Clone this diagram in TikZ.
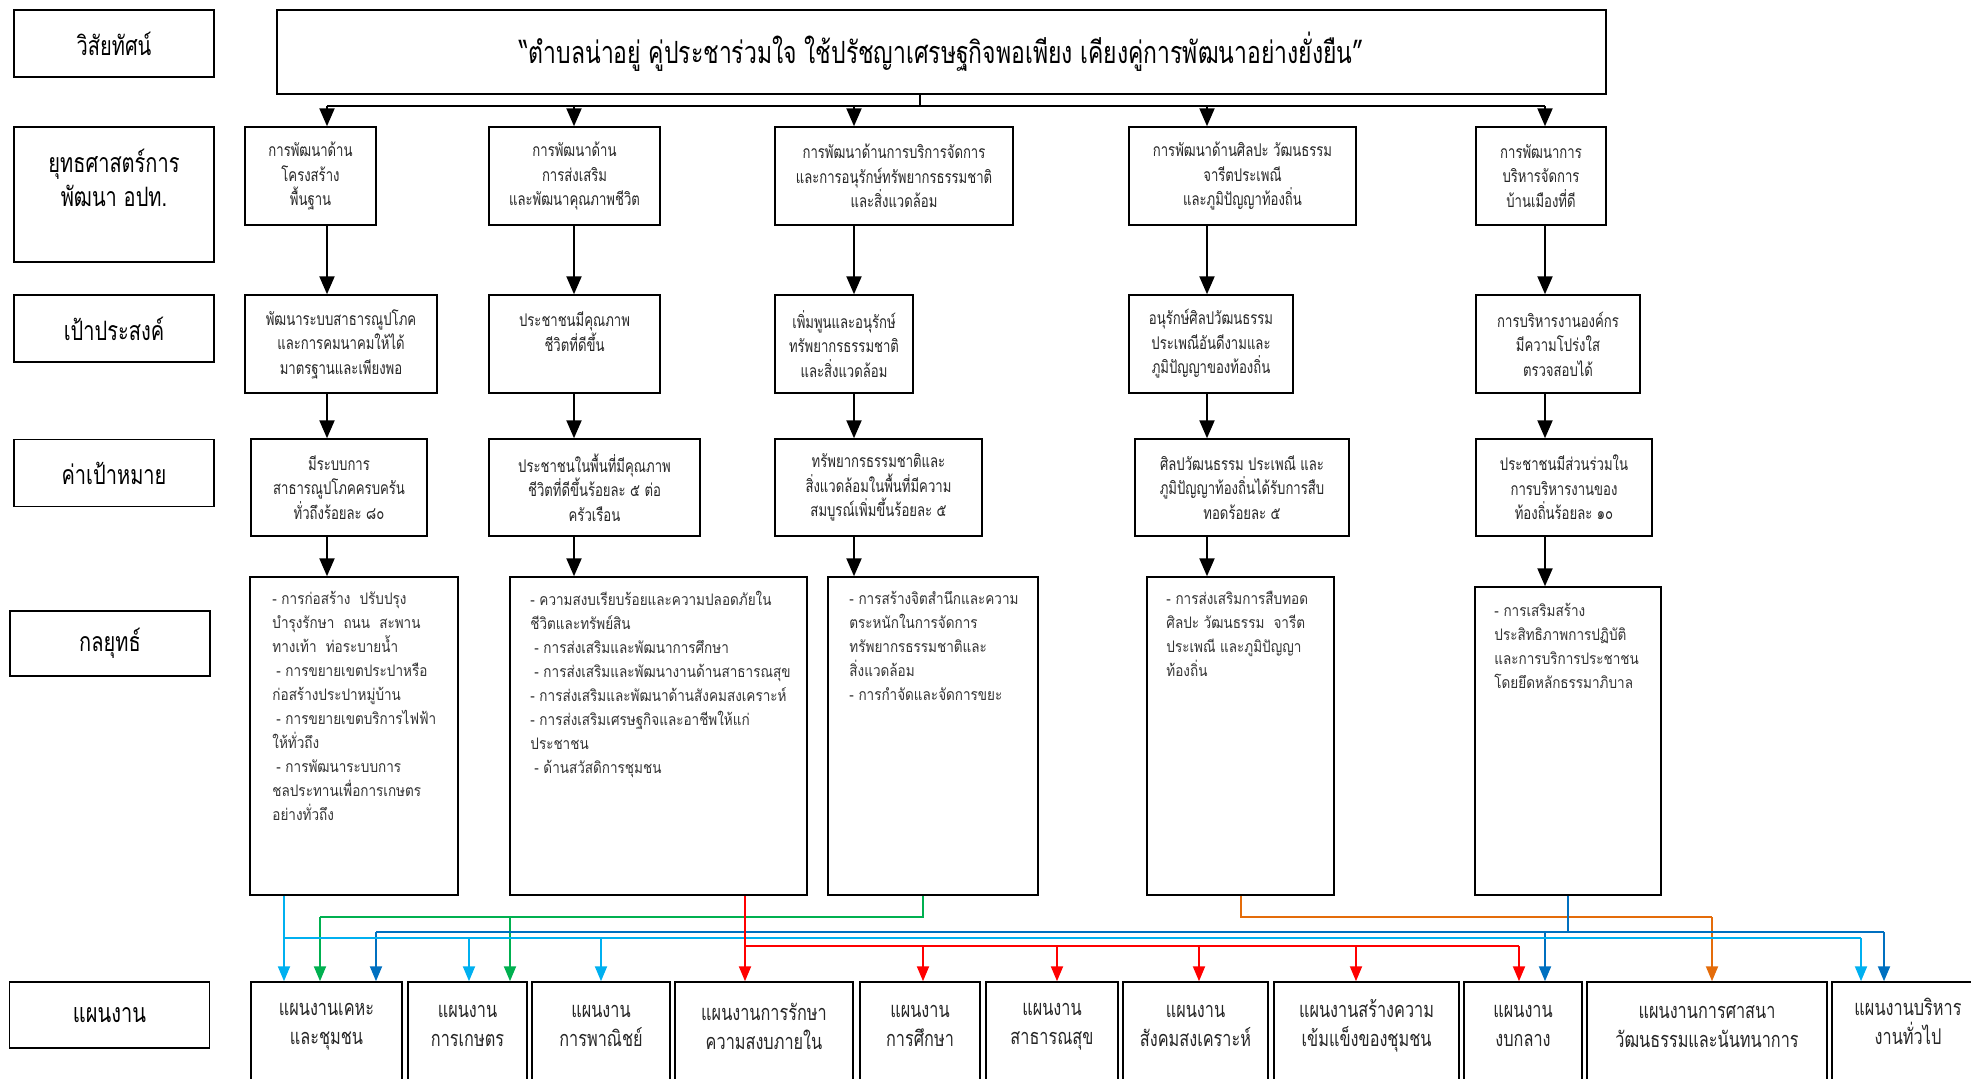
\documentclass[tikz,border=0pt]{standalone}
\usepackage{fontspec}
\setmainfont[Script=Thai]{Loma}
\newfontfamily\thnarrow[Script=Thai,FakeStretch=0.75]{Loma}
\newfontfamily\thtactic[Script=Thai,FakeStretch=0.85]{Loma}
\usetikzlibrary{arrows.meta}
\definecolor{skyln}{HTML}{00B0F0}
\definecolor{grnln}{HTML}{00B050}
\definecolor{bluln}{HTML}{0070C0}
\definecolor{redln}{HTML}{FF0000}
\definecolor{orgln}{HTML}{E46C0A}

\begin{document}
\begin{tikzpicture}[x=1pt,y=-1pt,
  box/.style={draw,line width=1.5pt,inner sep=0pt,align=center},
  headbox/.style={box,minimum width=200pt,minimum height=67pt,font=\thnarrow\fontsize{26.7}{34}\selectfont},
  rowbox/.style={box,minimum height=98pt,font=\thnarrow\fontsize{17.5}{24.5}\selectfont,text=black!85},
  stratbox/.style={box,minimum height=318pt},
  strattext/.style={anchor=north west,inner sep=0pt,align=left,font=\thtactic\fontsize{15.9}{24}\selectfont,text=black!80},
  planbox/.style={box,minimum height=120pt},
  plantext/.style={inner sep=0pt,align=center,font=\thnarrow\fontsize{21.7}{29}\selectfont,text=black!85},
  blackarrow/.style={line width=2.2pt,-{Triangle[width=15pt,length=18pt]}},
  cline/.style={line width=2pt},
  ctip/.style={-{Triangle[width=12pt,length=15pt]}}
]
\useasboundingbox (0,0) rectangle (1971,1079);

% left column
\node[headbox] (lvis) at (114,43.5) {วิสัยทัศน์};
\node[headbox,minimum height=135pt] (lstr) at (114,194.5) {ยุทธศาสตร์การ\\พัฒนา อปท.\\~};
\node[headbox] (lgoal) at (114,328.5) {เป้าประสงค์};
\node[headbox] (ltgt) at (114,473) {ค่าเป้าหมาย};
\node[headbox,minimum height=65pt] (lstrat) at (110,643.5) {กลยุทธ์};
\node[headbox,minimum height=66pt] (lplan) at (109.5,1015) {แผนงาน};

% vision
\node[box,minimum width=1329pt,minimum height=84pt,font=\thnarrow\fontsize{30.6}{36}\selectfont] (vision) at (941.5,52)
  {“ตำบลน่าอยู่ คู่ประชาร่วมใจ ใช้ปรัชญาเศรษฐกิจพอเพียง เคียงคู่การพัฒนาอย่างยั่งยืน”};

% strategies
\node[rowbox,minimum width=131pt] (s1) at (310.5,176) {การพัฒนาด้าน\\โครงสร้าง\\พื้นฐาน};
\node[rowbox,minimum width=171pt] (s2) at (574.5,176) {การพัฒนาด้าน\\การส่งเสริม\\และพัฒนาคุณภาพชีวิต};
\node[rowbox,minimum width=238pt] (s3) at (894,176) {การพัฒนาด้านการบริการจัดการ\\และการอนุรักษ์ทรัพยากรธรรมชาติ\\และสิ่งแวดล้อม};
\node[rowbox,minimum width=227pt] (s4) at (1242.5,176) {การพัฒนาด้านศิลปะ วัฒนธรรม\\จารีตประเพณี\\และภูมิปัญญาท้องถิ่น};
\node[rowbox,minimum width=130pt] (s5) at (1541,176) {การพัฒนาการ\\บริหารจัดการ\\บ้านเมืองที่ดี};

% goals
\node[rowbox,minimum width=192pt] (g1) at (341,344) {พัฒนาระบบสาธารณูปโภค\\และการคมนาคมให้ได้\\มาตรฐานและเพียงพอ};
\node[rowbox,minimum width=171pt] (g2) at (574.5,344) {ประชาชนมีคุณภาพ\\ชีวิตที่ดีขึ้น\\~};
\node[rowbox,minimum width=138pt] (g3) at (844,344) {เพิ่มพูนและอนุรักษ์\\ทรัพยากรธรรมชาติ\\และสิ่งแวดล้อม};
\node[rowbox,minimum width=164pt] (g4) at (1211,344) {อนุรักษ์ศิลปวัฒนธรรม\\ประเพณีอันดีงามและ\\ภูมิปัญญาของท้องถิ่น};
\node[rowbox,minimum width=164pt] (g5) at (1558,344) {การบริหารงานองค์กร\\มีความโปร่งใส\\ตรวจสอบได้};

% targets
\node[rowbox,minimum width=176pt,minimum height=97pt] (t1) at (339,487.5) {มีระบบการ\\สาธารณูปโภคครบครัน\\ทั่วถึงร้อยละ ๘๐};
\node[rowbox,minimum width=211pt,minimum height=97pt] (t2) at (594.5,487.5) {ประชาชนในพื้นที่มีคุณภาพ\\ชีวิตที่ดีขึ้นร้อยละ ๕ ต่อ\\ครัวเรือน};
\node[rowbox,minimum width=207pt,minimum height=97pt] (t3) at (878.5,487.5) {ทรัพยากรธรรมชาติและ\\สิ่งแวดล้อมในพื้นที่มีความ\\สมบูรณ์เพิ่มขึ้นร้อยละ ๕};
\node[rowbox,minimum width=214pt,minimum height=97pt] (t4) at (1242,487.5) {ศิลปวัฒนธรรม ประเพณี และ\\ภูมิปัญญาท้องถิ่นได้รับการสืบ\\ทอดร้อยละ ๕};
\node[rowbox,minimum width=176pt,minimum height=97pt] (t5) at (1564,487.5) {ประชาชนมีส่วนร่วมใน\\การบริหารงานของ\\ท้องถิ่นร้อยละ ๑๐};

% tactics
\node[stratbox,minimum width=208pt] (k1) at (354,736) {};
\node[strattext] (k1t) at ([shift={(23,15)}]k1.north west)
  {- การก่อสร้าง~~ปรับปรุง\\บำรุงรักษา~~ถนน~~สะพาน\\ทางเท้า~~ท่อระบายน้ำ\\\hspace*{4pt}- การขยายเขตประปาหรือ\\ก่อสร้างประปาหมู่บ้าน\\\hspace*{4pt}- การขยายเขตบริการไฟฟ้า\\ให้ทั่วถึง\\\hspace*{4pt}- การพัฒนาระบบการ\\ชลประทานเพื่อการเกษตร\\อย่างทั่วถึง};
\node[stratbox,minimum width=297pt] (k2) at (658.5,736) {};
\node[strattext] (k2t) at ([shift={(21,15)}]k2.north west)
  {- ความสงบเรียบร้อยและความปลอดภัยใน\\ชีวิตและทรัพย์สิน\\\hspace*{4pt}- การส่งเสริมและพัฒนาการศึกษา\\\hspace*{4pt}- การส่งเสริมและพัฒนางานด้านสาธารณสุข\\- การส่งเสริมและพัฒนาด้านสังคมสงเคราะห์\\- การส่งเสริมเศรษฐกิจและอาชีพให้แก่\\ประชาชน\\\hspace*{4pt}- ด้านสวัสดิการชุมชน};
\node[stratbox,minimum width=210pt] (k3) at (933,736) {};
\node[strattext] (k3t) at ([shift={(22,15)}]k3.north west)
  {- การสร้างจิตสำนึกและความ\\ตระหนักในการจัดการ\\ทรัพยากรธรรมชาติและ\\สิ่งแวดล้อม\\- การกำจัดและจัดการขยะ};
\node[stratbox,minimum width=187pt] (k4) at (1240.5,736) {};
\node[strattext] (k4t) at ([shift={(20,15)}]k4.north west)
  {- การส่งเสริมการสืบทอด\\ศิลปะ วัฒนธรรม~~จารีต\\ประเพณี และภูมิปัญญา\\ท้องถิ่น};
\node[stratbox,minimum width=186pt,minimum height=308pt] (k5) at (1568,741) {};
\node[strattext] (k5t) at ([shift={(20,17)}]k5.north west)
  {- การเสริมสร้าง\\ประสิทธิภาพการปฏิบัติ\\และการบริการประชาชน\\โดยยึดหลักธรรมาภิบาล};

% plans
\node[planbox,minimum width=151pt] (p1) at (326.5,1042) {};
\node[planbox,minimum width=119pt] (p2) at (467.5,1042) {};
\node[planbox,minimum width=138pt] (p3) at (601,1042) {};
\node[planbox,minimum width=178pt] (p4) at (764,1042) {};
\node[planbox,minimum width=120pt] (p5) at (920,1042) {};
\node[planbox,minimum width=132pt] (p6) at (1052,1042) {};
\node[planbox,minimum width=145pt] (p7) at (1195.5,1042) {};
\node[planbox,minimum width=185pt] (p8) at (1366.5,1042) {};
\node[planbox,minimum width=118pt] (p9) at (1523,1042) {};
\node[planbox,minimum width=240pt] (p10) at (1707,1042) {};
\node[planbox,minimum width=152pt] (p11) at (1908,1042) {};
\node[plantext] (p1t) at ([yshift=-45pt]p1.north) {แผนงานเคหะ\\และชุมชน};
\node[plantext] (p2t) at ([yshift=-45pt]p2.north) {แผนงาน\\การเกษตร};
\node[plantext] (p3t) at ([yshift=-45pt]p3.north) {แผนงาน\\การพาณิชย์};
\node[plantext] (p4t) at ([yshift=-45pt]p4.north) {แผนงานการรักษา\\ความสงบภายใน};
\node[plantext] (p5t) at ([yshift=-45pt]p5.north) {แผนงาน\\การศึกษา};
\node[plantext] (p6t) at ([yshift=-45pt]p6.north) {แผนงาน\\สาธารณสุข};
\node[plantext] (p7t) at ([yshift=-45pt]p7.north) {แผนงาน\\สังคมสงเคราะห์};
\node[plantext] (p8t) at ([yshift=-45pt]p8.north) {แผนงานสร้างความ\\เข้มแข็งของชุมชน};
\node[plantext] (p9t) at ([yshift=-45pt]p9.north) {แผนงาน\\งบกลาง};
\node[plantext] (p10t) at ([yshift=-45pt]p10.north) {แผนงานการศาสนา\\วัฒนธรรมและนันทนาการ};
\node[plantext] (p11t) at ([yshift=-40pt]p11.north) {แผนงานบริหาร\\งานทั่วไป};

% black tree
\coordinate (bus) at (920,106);
\coordinate (c1) at (327,106);
\coordinate (c2) at (574,106);
\coordinate (c3) at (854,106);
\coordinate (c4) at (1207,106);
\coordinate (c5) at (1545,106);
\draw[line width=2.2pt] (vision.south -| bus) -- (bus);
\draw[line width=2.2pt] (c1) -- (c5);
\draw[blackarrow] (c1) -- (c1 |- s1.north);
\draw[blackarrow] (c2) -- (c2 |- s2.north);
\draw[blackarrow] (c3) -- (c3 |- s3.north);
\draw[blackarrow] (c4) -- (c4 |- s4.north);
\draw[blackarrow] (c5) -- (c5 |- s5.north);
\draw[blackarrow] (c1 |- s1.south) -- (c1 |- g1.north);
\draw[blackarrow] (c2 |- s2.south) -- (c2 |- g2.north);
\draw[blackarrow] (c3 |- s3.south) -- (c3 |- g3.north);
\draw[blackarrow] (c4 |- s4.south) -- (c4 |- g4.north);
\draw[blackarrow] (c5 |- s5.south) -- (c5 |- g5.north);
\draw[blackarrow] (c1 |- g1.south) -- (c1 |- t1.north);
\draw[blackarrow] (c2 |- g2.south) -- (c2 |- t2.north);
\draw[blackarrow] (c3 |- g3.south) -- (c3 |- t3.north);
\draw[blackarrow] (c4 |- g4.south) -- (c4 |- t4.north);
\draw[blackarrow] (c5 |- g5.south) -- (c5 |- t5.north);
\draw[blackarrow] (c1 |- t1.south) -- (c1 |- k1.north);
\draw[blackarrow] (c2 |- t2.south) -- (c2 |- k2.north);
\draw[blackarrow] (c3 |- t3.south) -- (c3 |- k3.north);
\draw[blackarrow] (c4 |- t4.south) -- (c4 |- k4.north);
\draw[blackarrow] (c5 |- t5.south) -- (c5 |- k5.north);

% green lines
\coordinate (grn0) at (923,917);
\coordinate (grn1) at (320,917);
\coordinate (grn2) at (510,917);
\draw[cline,grnln] (k3.south -| grn0) -- (grn0) -- (grn1);
\draw[cline,ctip,grnln] (grn1) -- (grn1 |- p1.north);
\draw[cline,ctip,grnln] (grn2) -- (grn2 |- p2.north);

% orange line
\coordinate (org0) at (1241,917);
\coordinate (org1) at (1712,917);
\draw[cline,orgln] (k4.south -| org0) -- (org0) -- (org1);
\draw[cline,ctip,orgln] (org1) -- (org1 |- p10.north);

% blue lines
\coordinate (blu0) at (1568,932);
\coordinate (blu1) at (376,932);
\coordinate (blu2) at (1545,932);
\coordinate (blu3) at (1884,932);
\draw[line width=1.2pt,bluln] (k5.south -| blu0) -- (blu0);
\draw[cline,bluln] (blu1) -- (blu3);
\draw[cline,ctip,bluln] (blu1) -- (blu1 |- p1.north);
\draw[cline,ctip,bluln] (blu2) -- (blu2 |- p9.north);
\draw[cline,ctip,bluln] (blu3) -- (blu3 |- p11.north);

% light blue lines
\coordinate (sky1) at (284,938);
\coordinate (sky2) at (469,938);
\coordinate (sky3) at (601,938);
\coordinate (sky4) at (1861,938);
\draw[cline,skyln] (sky1) -- (sky4);
\draw[cline,ctip,skyln] (k1.south -| sky1) -- (sky1 |- p1.north);
\draw[cline,ctip,skyln] (sky2) -- (sky2 |- p2.north);
\draw[cline,ctip,skyln] (sky3) -- (sky3 |- p3.north);
\draw[cline,ctip,skyln] (sky4) -- (sky4 |- p11.north);

% red lines
\coordinate (red1) at (745,946);
\coordinate (red2) at (923,946);
\coordinate (red3) at (1057,946);
\coordinate (red4) at (1199,946);
\coordinate (red5) at (1356,946);
\coordinate (red6) at (1519,946);
\draw[cline,ctip,redln] (k2.south -| red1) -- (red1 |- p4.north);
\draw[cline,redln] (red1) -- (red6);
\draw[cline,ctip,redln] (red2) -- (red2 |- p5.north);
\draw[cline,ctip,redln] (red3) -- (red3 |- p6.north);
\draw[cline,ctip,redln] (red4) -- (red4 |- p7.north);
\draw[cline,ctip,redln] (red5) -- (red5 |- p8.north);
\draw[cline,ctip,redln] (red6) -- (red6 |- p9.north);
\end{tikzpicture}
\end{document}
